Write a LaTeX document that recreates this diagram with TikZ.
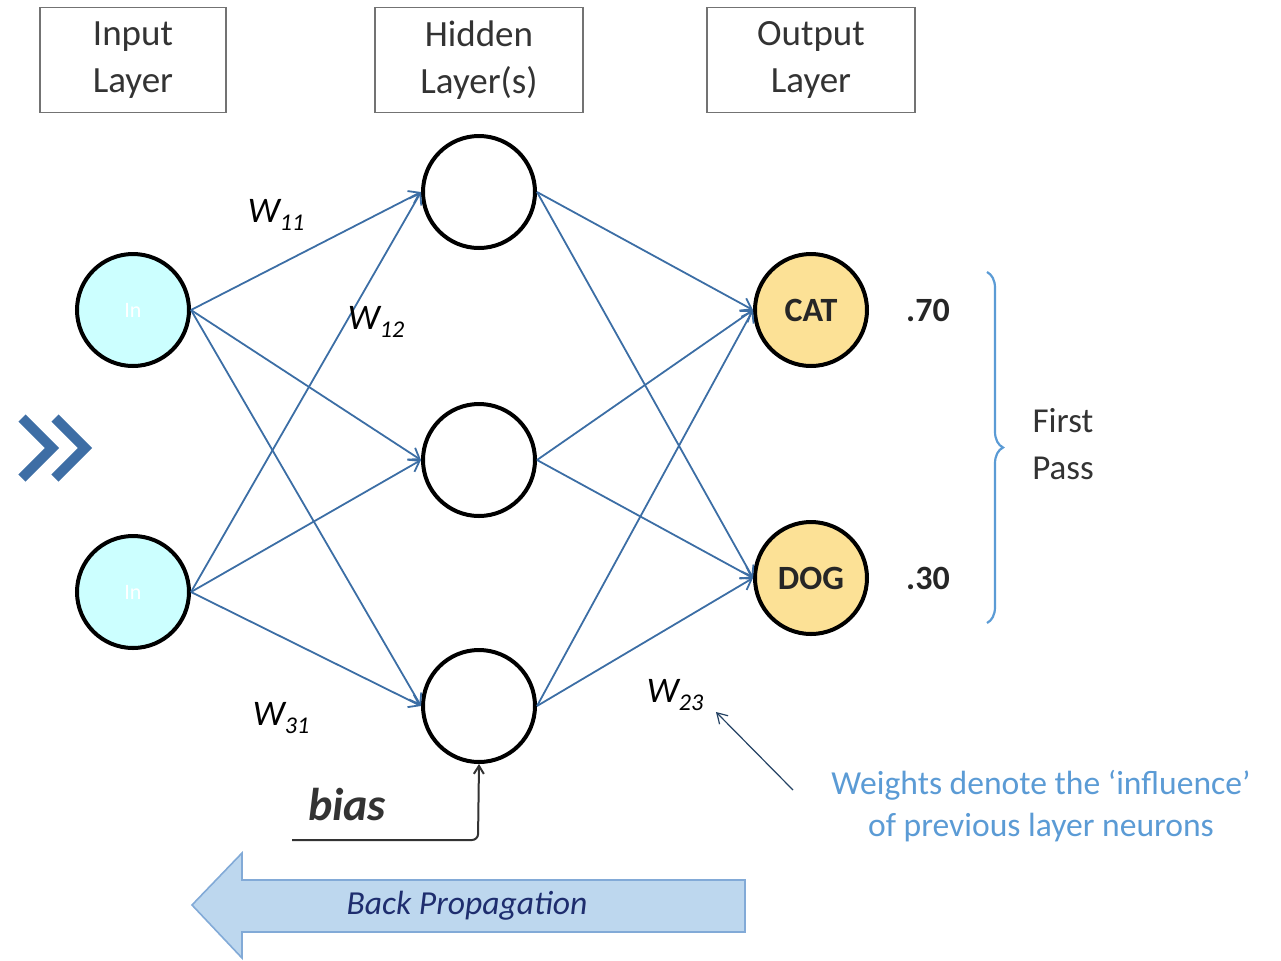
\documentclass[tikz,border=0pt]{standalone}
\usepackage{fontspec}
\setmainfont{Carlito}
\usetikzlibrary{arrows.meta,decorations.pathreplacing}

\definecolor{edgeblue}{RGB}{60,110,165}
\definecolor{incyan}{RGB}{204,255,255}
\definecolor{outgold}{RGB}{252,225,150}
\definecolor{notecol}{RGB}{91,155,213}
\definecolor{bpfill}{RGB}{189,215,238}
\definecolor{bpline}{RGB}{130,170,215}
\definecolor{bptext}{RGB}{30,45,110}
\definecolor{chevcol}{RGB}{62,110,165}

\newcommand{\wlab}[1]{{\fontsize{18}{18}\selectfont\itshape W\raisebox{-0.45ex}{\fontsize{12}{12}\selectfont #1}}}

\tikzset{
  layerbox/.style={draw=black!55, line width=0.8pt, minimum width=93pt, minimum height=52.5pt,
    align=center, text=black!80, font=\fontsize{18.5}{23.5}\selectfont},
  neuron/.style={circle, draw=black, line width=2pt, minimum size=56pt, inner sep=0pt},
  weight/.style={draw=edgeblue, line width=0.9pt, -{Straight Barb[length=5pt,width=7pt]}},
}

\begin{document}
\begin{tikzpicture}[x=0.5pt, y=-0.5pt]

\useasboundingbox (0,0) rectangle (1281,960);

% Layer titles
\node[layerbox] (inbox)  at (133,60) {Input\\Layer};
\node[layerbox, minimum width=104pt] (hidbox) at (479,60) {Hidden\\Layer(s)};
\node[layerbox, minimum width=104pt] (outbox) at (811,60) {Output\\Layer};

% Neurons
\node[neuron, fill=incyan, font=\fontsize{11}{11}\selectfont, text=white] (in1) at (133,310) {In};
\node[neuron, fill=incyan, font=\fontsize{11}{11}\selectfont, text=white] (in2) at (133,592) {In};

\node[neuron, fill=white] (hid1) at (479,192) {};
\node[neuron, fill=white] (hid2) at (479,460) {};
\node[neuron, fill=white] (hid3) at (479,706) {};

\node[neuron, fill=outgold, font=\bfseries\fontsize{17}{17}\selectfont, text=black!85] (out1) at (811,310) {CAT};
\node[neuron, fill=outgold, font=\bfseries\fontsize{17}{17}\selectfont, text=black!85] (out2) at (811,578) {DOG};

% Weighted connections
\foreach \i in {1,2}
  \foreach \h in {1,2,3}
    \draw[weight] (in\i.east) -- (hid\h.west);
\foreach \h in {1,2,3}
  \foreach \o in {1,2}
    \draw[weight] (hid\h.east) -- (out\o.west);

% Weight labels
\node (w11) at (276,215) {\wlab{11}};
\node (w12) at (376,322) {\wlab{12}};
\node (w31) at (281,718) {\wlab{31}};
\node (w23) at (675,695) {\wlab{23}};

% Input marker
\draw[chevcol, line width=5pt, miter limit=10] (22,418) -- (52,448) -- (22,478);
\draw[chevcol, line width=5pt, miter limit=10] (55,418) -- (85,448) -- (55,478);

% Outputs
\node[font=\bfseries\fontsize{17}{17}\selectfont, text=black!85] (p1) at (928,310) {.70};
\node[font=\bfseries\fontsize{17}{17}\selectfont, text=black!85] (p2) at (928,578) {.30};

\draw[notecol, line width=1.1pt, decorate, decoration={brace, amplitude=8pt}] (987,272) -- (987,623);
\node[align=center, text=black!80, font=\fontsize{17.5}{23.5}\selectfont] (pass) at (1063,444) {First\\Pass};

% Bias
\node[font=\bfseries\itshape\fontsize{23}{23}\selectfont, text=black!80] (bias) at (347,805) {bias};
\coordinate (biasstart) at (292,840);
\draw[black!80, line width=1pt, rounded corners=3pt, -{Straight Barb[length=4pt,width=5pt]}]
  (biasstart) -- (478,840) -- (hid3.south);

% Note on weights
\node[align=center, text=notecol, font=\fontsize{16.8}{21}\selectfont] (note) at (1041,806)
  {Weights denote the `influence'\\of previous layer neurons};
\coordinate (notetip) at (716,712);
\coordinate (notestart) at (793,790);
\draw[black!40!edgeblue, line width=0.6pt, -{Straight Barb[length=5pt,width=6pt]}] (notestart) -- (notetip);

% Back propagation arrow
\draw[fill=bpfill, draw=bpline, line width=0.8pt]
  (745,880) -- (242,880) -- (242,853) -- (192,905) -- (242,958) -- (242,932) -- (745,932) -- cycle;
\node[text=bptext, font=\itshape\fontsize{16.8}{16.8}\selectfont] (bp) at (467,906) {Back Propagation};

\end{tikzpicture}
\end{document}
